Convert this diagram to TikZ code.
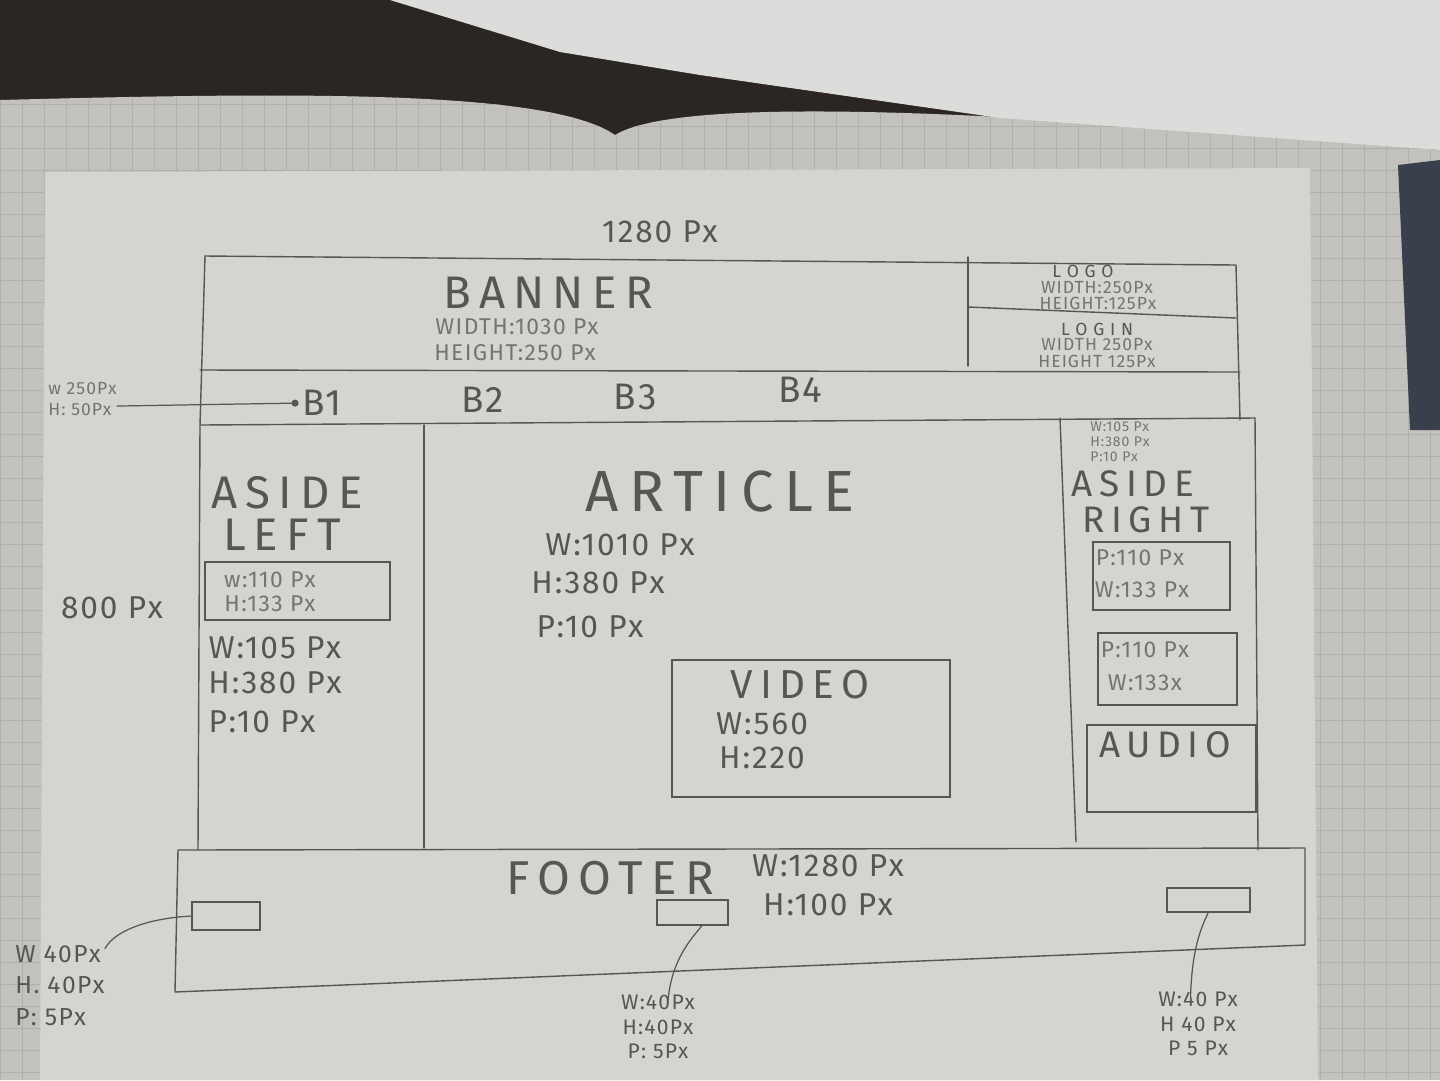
\documentclass[tikz,border=0pt]{standalone}
\usepackage{fontspec}
\setmainfont{Fira Sans}
\newfontfamily\hand[LetterSpace=6]{Fira Sans}
\newfontfamily\handwide[LetterSpace=18]{Fira Sans}
\usetikzlibrary{arrows.meta}

\definecolor{bgdark}{HTML}{2B2622}
\definecolor{bluedark}{HTML}{39404C}
\definecolor{notebook}{HTML}{C2C1BE}
\definecolor{gridline}{HTML}{B0AFAC}
\definecolor{topsheet}{HTML}{DCDCDB}
\definecolor{sheet}{HTML}{D6D4D1}
\definecolor{pencil}{HTML}{585653}
\definecolor{pencilfaint}{HTML}{767470}

\begin{document}
\begin{tikzpicture}[x=0.02cm,y=-0.02cm,
  frame/.style={draw=pencil, line width=0.8pt, line cap=round, line join=round},
  boxr/.style={draw=pencil, line width=0.7pt, rectangle, inner sep=0pt, outer sep=0pt},
  txt/.style={text=pencil, inner sep=0pt, align=center},
  hugetxt/.style={txt, font=\handwide\fontsize{33}{36}\selectfont},
  headtxt/.style={txt, font=\handwide\fontsize{26}{30}\selectfont},
  sidetxt/.style={txt, font=\handwide\fontsize{21}{24}\selectfont},
  navtxt/.style={txt, font=\hand\fontsize{21}{24}\selectfont},
  midtxt/.style={txt, font=\hand\fontsize{18}{22}\selectfont},
  smalltxt/.style={txt, font=\hand\fontsize{13}{18}\selectfont},
  tinytxt/.style={txt, font=\hand\fontsize{10}{11}\selectfont},
  faint/.style={text=pencilfaint},
  link/.style={draw=pencil, line width=0.7pt, line cap=round}]

\useasboundingbox (0,0) rectangle (1440,1080);

% --- desk, notebook and sheet
\fill[bgdark] (0,0) rectangle (1440,220);
\path[fill=notebook] (0,100) .. controls (300,92) and (550,90) .. (615,135)
  .. controls (680,95) and (1000,110) .. (1440,150) -- (1440,1080) -- (0,1080) -- cycle;
\begin{scope}
  \clip (0,100) .. controls (300,92) and (550,90) .. (615,135)
    .. controls (680,95) and (1000,110) .. (1440,150) -- (1440,1080) -- (0,1080) -- cycle;
  \foreach \gx in {0,22,...,1440} \draw[gridline, line width=0.3pt] (\gx,90) -- (\gx,1080);
  \foreach \gy in {104,126,...,1080} \draw[gridline, line width=0.3pt] (0,\gy) -- (1440,\gy);
\end{scope}
\fill[bluedark] (1398,165) -- (1440,160) -- (1440,430) -- (1410,430) -- cycle;
\fill[topsheet] (390,0) -- (1440,0) -- (1440,150) -- (1000,118) -- (700,75) -- (560,52) -- cycle;
\fill[sheet] (45,172) -- (1310,168) -- (1318,1080) -- (40,1080) -- cycle;

% --- page outline
\draw[frame] (205,256) -- (1236,265) -- (1240,420);
\draw[frame] (205,256) -- (200,425) -- (198,850);
\draw[frame] (968,257) -- (968,366);
\draw[frame] (968,307) -- (1236,318);
\draw[frame] (200,370) -- (1240,372);
\draw[frame] (200,425) -- (1255,418);
\draw[frame] (424,425) -- (424,848);
\draw[frame] (1060,418) -- (1076,842);
\draw[frame] (1255,418) -- (1258,850);
\draw[frame] (178,850) -- (1305,848) -- (1305,945) -- (175,992) -- cycle;

% --- widths and heights
\node[midtxt] (wtotal) at (660,232) {1280 Px};
\node[midtxt] (htotal) at (112,608) {800 Px};

% --- banner
\node[headtxt] (banner) at (548,293) {BANNER};
\node[smalltxt, faint] (bannerw) at (517,327) {WIDTH:1030 Px};
\node[smalltxt, faint] (bannerh) at (515,353) {HEIGHT:250 Px};

% --- logo and login
\node[tinytxt] (logo) at (1083,271) {L O G O};
\node[tinytxt, faint] (logow) at (1097,288) {WIDTH:250Px};
\node[tinytxt, faint] (logoh) at (1098,303) {HEIGHT:125Px};
\node[tinytxt] (login) at (1097,329) {L O G I N};
\node[tinytxt, faint] (loginw) at (1097,345) {WIDTH 250Px};
\node[tinytxt, faint] (loginh) at (1097,361) {HEIGHT 125Px};

% --- navigation
\node[navtxt] (b1) at (322,403) {B1};
\node[navtxt] (b2) at (483,400) {B2};
\node[navtxt] (b3) at (635,397) {B3};
\node[navtxt] (b4) at (800,390) {B4};
\node[tinytxt, faint, align=left, anchor=west, font=\hand\fontsize{10}{12}\selectfont] (navl) at (48,399) {w 250Px\\H: 50Px};
\draw[link, -{Circle[length=4pt]}, shorten >=2pt] ([yshift=-4pt]navl.east) -- (b1.west);

% --- aside left
\node[headtxt] (asidel) at (287,493) {ASIDE};
\node[headtxt] (asidel2) at (282,535) {LEFT};
\node[boxr, minimum width=3.7cm, minimum height=1.16cm] (boxl) at (297.5,591) {};
\node[smalltxt, faint] (boxlw) at (270,580) {w:110 Px};
\node[smalltxt, faint] (boxlh) at (270,604) {H:133 Px};
\node[midtxt] (asidelw) at (275,648) {W:105 Px};
\node[midtxt] (asidelh) at (275,683) {H:380 Px};
\node[midtxt] (asidelp) at (262,722) {P:10 Px};

% --- article
\node[hugetxt] (article) at (720,492) {ARTICLE};
\node[midtxt] (articlew) at (620,545) {W:1010 Px};
\node[midtxt] (articleh) at (598,583) {H:380 Px};
\node[midtxt] (articlep) at (590,627) {P:10 Px};

% --- video
\node[boxr, minimum width=5.56cm, minimum height=2.74cm] (video) at (811,728.5) {};
\node[headtxt, font=\handwide\fontsize{23}{26}\selectfont] (videot) at (800,685) {VIDEO};
\node[midtxt] (videow) at (762,724) {W:560};
\node[midtxt] (videoh) at (762,758) {H:220};

% --- aside right
\node[txt, faint, align=left, anchor=west, font=\hand\fontsize{8}{8.6}\selectfont] (asidersize) at (1090,442) {W:105 Px\\H:380 Px\\P:10 Px};
\node[sidetxt] (asider) at (1133,484) {ASIDE};
\node[sidetxt] (asider2) at (1146,520) {RIGHT};
\node[boxr, minimum width=2.74cm, minimum height=1.36cm] (boxr1) at (1161.5,576) {};
\node[smalltxt, faint] (boxr1p) at (1140,558) {P:110 Px};
\node[smalltxt, faint] (boxr1w) at (1142,590) {W:133 Px};
\node[boxr, minimum width=2.78cm, minimum height=1.44cm] (boxr2) at (1167.5,669) {};
\node[smalltxt, faint] (boxr2p) at (1145,650) {P:110 Px};
\node[smalltxt, faint] (boxr2w) at (1145,683) {W:133x};
\node[boxr, minimum width=3.38cm, minimum height=1.74cm] (audio) at (1171.5,768.5) {};
\node[sidetxt] (audiot) at (1165,745) {AUDIO};

% --- footer
\node[headtxt, font=\handwide\fontsize{27}{30}\selectfont] (footer) at (610,878) {FOOTER};
\node[midtxt] (footerw) at (828,866) {W:1280 Px};
\node[midtxt] (footerh) at (828,905) {H:100 Px};
\node[boxr, minimum width=1.36cm, minimum height=0.56cm] (fb1) at (226,916) {};
\node[boxr, minimum width=1.42cm, minimum height=0.5cm] (fb2) at (692.5,912.5) {};
\node[boxr, minimum width=1.66cm, minimum height=0.48cm] (fb3) at (1208.5,900) {};

\node[smalltxt, font=\hand\fontsize{14}{18}\selectfont, align=left, anchor=north west] (fl1) at (15,945) {W 40Px\\H. 40Px\\P: 5Px};
\node[smalltxt, font=\hand\fontsize{12}{14}\selectfont] (fl2) at (658,1027) {W:40Px\\H:40Px\\P: 5Px};
\node[smalltxt, font=\hand\fontsize{12}{14}\selectfont] (fl3) at (1198,1024) {W:40 Px\\H 40 Px\\P 5 Px};

\draw[link] (fb1.west) .. controls (150,918) and (115,930) .. ([xshift=1.8cm, yshift=-2pt]fl1.north west);
\draw[link] ([xshift=0.2cm]fb2.south) .. controls (690,940) and (672,960) .. ([xshift=0.2cm, yshift=-3pt]fl2.north);
\draw[link] (fb3.south) .. controls (1200,930) and (1192,950) .. ([xshift=-0.15cm, yshift=-3pt]fl3.north);

\end{tikzpicture}
\end{document}
